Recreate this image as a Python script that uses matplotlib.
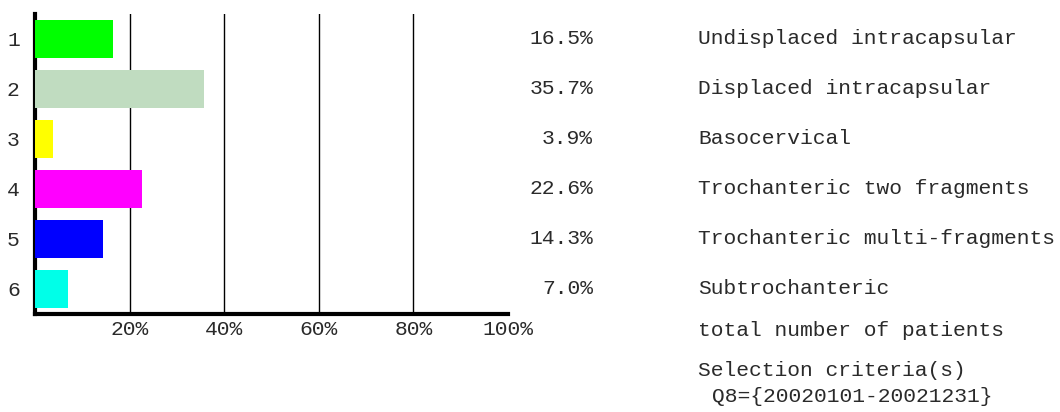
import matplotlib
matplotlib.use("Agg")
import matplotlib.pyplot as plt
from matplotlib import transforms

# fracture types, share of patients in %
rows = [1, 2, 3, 4, 5, 6]
shares = [16.5, 35.7, 3.9, 22.6, 14.3, 7.0]
labels = ["Undisplaced intracapsular", "Displaced intracapsular",
          "Basocervical", "Trochanteric two fragments",
          "Trochanteric multi-fragments", "Subtrochanteric"]
colors = ["#00ff00", "#c0dcc0", "#ffff00", "#ff00ff", "#0000ff", "#00ffe8"]
ticks = [20, 40, 60, 80, 100]
tick_labels = ["20%", "40%", "60%", "80%", "100%"]

plt.rcParams["font.family"] = ["Liberation Mono", "DejaVu Sans Mono"]
text_color = "#2a2a2a"
fs = 15.3

fig = plt.figure(figsize=(10.6, 4.12), dpi=100)
W, H = 1060, 412
ax = fig.add_axes([35 / W, 1 - 314 / H, (508 - 35) / W, (314 - 14) / H])

ax.barh(rows, shares, height=0.75, color=colors, zorder=3)
ax.set_xlim(0, 100)
ax.set_ylim(6.5, 0.5)

for x in ticks[:-1]:
    ax.axvline(x, color="black", linewidth=1, zorder=1)

for side in ["top", "right"]:
    ax.spines[side].set_visible(False)
for side in ["left", "bottom"]:
    ax.spines[side].set_linewidth(3)
    ax.spines[side].set_color("black")

ax.set_xticks(ticks)
ax.set_xticklabels(tick_labels, fontsize=fs, color=text_color)
ax.set_yticks(rows)
ax.set_yticklabels([str(r) for r in rows], fontsize=fs, color=text_color)
ax.tick_params(axis="x", length=0, pad=4)
ax.tick_params(axis="y", length=0, pad=11)

# value and name columns to the right of the plot
trans = transforms.blended_transform_factory(fig.transFigure, ax.transData)
for r, s, name in zip(rows, shares, labels):
    ax.text(593 / W, r, f"{s:.1f}%", transform=trans, ha="right",
            va="center", fontsize=fs, color=text_color, clip_on=False)
    ax.text(698 / W, r, name, transform=trans, ha="left",
            va="center", fontsize=fs, color=text_color, clip_on=False)

fig.text(698 / W, 1 - 330 / H, "total number of patients", ha="left",
         va="center", fontsize=fs, color=text_color)
fig.text(698 / W, 1 - 371 / H, "Selection criteria(s)", ha="left",
         va="center", fontsize=fs, color=text_color)
fig.text(712 / W, 1 - 396 / H, "Q8={20020101-20021231}", ha="left",
         va="center", fontsize=fs, color=text_color)

fig.savefig("out.png", dpi=100, facecolor="white")
